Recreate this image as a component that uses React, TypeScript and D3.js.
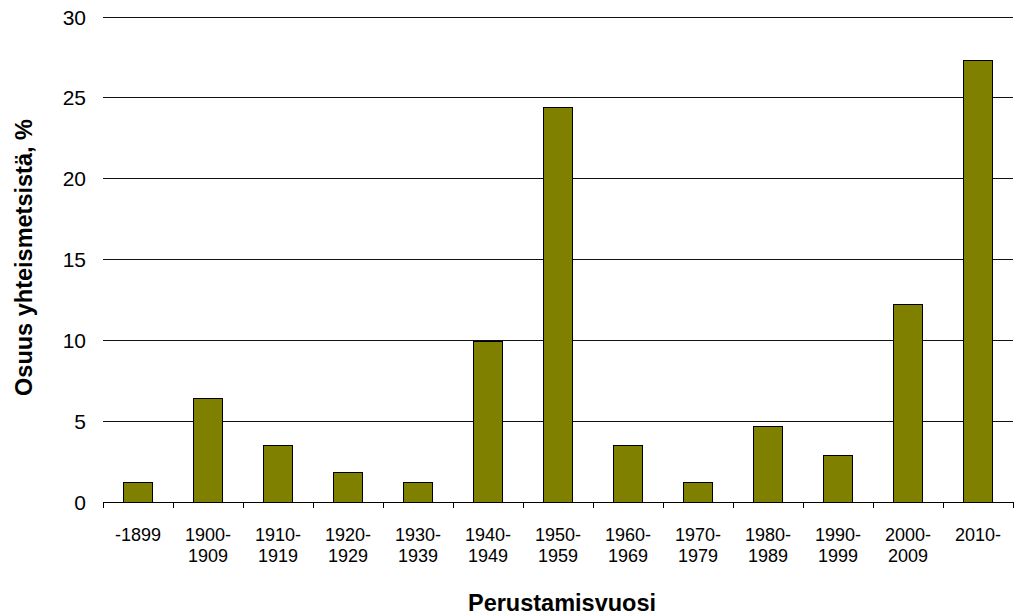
import React from "react";
import * as d3 from "d3";

const categories = [
  "-1899", "1900-1909", "1910-1919", "1920-1929", "1930-1939", "1940-1949",
  "1950-1959", "1960-1969", "1970-1979", "1980-1989", "1990-1999", "2000-2009", "2010-",
];
const values = [1.2, 6.4, 3.5, 1.8, 1.2, 9.9, 24.4, 3.5, 1.2, 4.7, 2.9, 12.2, 27.3];
const yTicks = [0, 5, 10, 15, 20, 25, 30];
const yTitle = "Osuus yhteismetsistä, %";
const xTitle = "Perustamisvuosi";

function labelLines(c: string): string[] {
  if (c.startsWith("-") || c.endsWith("-")) return [c];
  const i = c.indexOf("-");
  return [c.slice(0, i + 1), c.slice(i + 1)];
}

export default function App() {
  const W = 1019, H = 616;
  const left = 103, right = 1013, top = 17, bottom = 502;
  const x = d3.scaleBand<string>().domain(categories).range([left, right]).paddingInner(0.59).paddingOuter(0.295);
  const y = d3.scaleLinear().domain([0, 30]).range([bottom, top]);
  const step = x.step();
  const font = "'Liberation Sans', Arial, sans-serif";
  return (
    <div style={{ position: "absolute", left: 0, top: 0 }}>
      <svg width={W} height={H} style={{ display: "block", background: "#fff" }} fontFamily={font}>
        {yTicks.map((t) => (
          <g key={t}>
            {t > 0 && <line x1={left} x2={right} y1={y(t)} y2={y(t)} stroke="#111" strokeWidth={1} shapeRendering="crispEdges" />}
            <text x={86} y={y(t)} dy="0.36em" textAnchor="end" fontSize={21} fill="#000">{t}</text>
          </g>
        ))}
        {categories.map((c, i) => (
          <rect key={c} x={x(c)!} y={y(values[i])} width={x.bandwidth()} height={y(0) - y(values[i])}
            fill="#808000" stroke="#000" strokeWidth={1} shapeRendering="crispEdges" />
        ))}
        <line x1={left} x2={right} y1={bottom} y2={bottom} stroke="#000" strokeWidth={1} shapeRendering="crispEdges" />
        {d3.range(categories.length + 1).map((i) => (
          <line key={i} x1={left + i * step} x2={left + i * step} y1={bottom} y2={bottom + 6} stroke="#000" strokeWidth={1} shapeRendering="crispEdges" />
        ))}
        {categories.map((c) => {
          const lines = labelLines(c);
          return (
            <text key={c} x={x(c)! + x.bandwidth() / 2} y={541} textAnchor="middle" fontSize={18} fill="#000">
              {lines.map((l, j) => (
                <tspan key={j} x={x(c)! + x.bandwidth() / 2} dy={j === 0 ? 0 : 21}>{l}</tspan>
              ))}
            </text>
          );
        })}
        <text x={(left + right) / 2 + 4} y={611} textAnchor="middle" fontSize={23.5} fontWeight="bold" fill="#000">{xTitle}</text>
        <text transform={`translate(32,${(118 + 397) / 2}) rotate(-90)`} textAnchor="middle" fontSize={23.5} fontWeight="bold" fill="#000">{yTitle}</text>
      </svg>
    </div>
  );
}
